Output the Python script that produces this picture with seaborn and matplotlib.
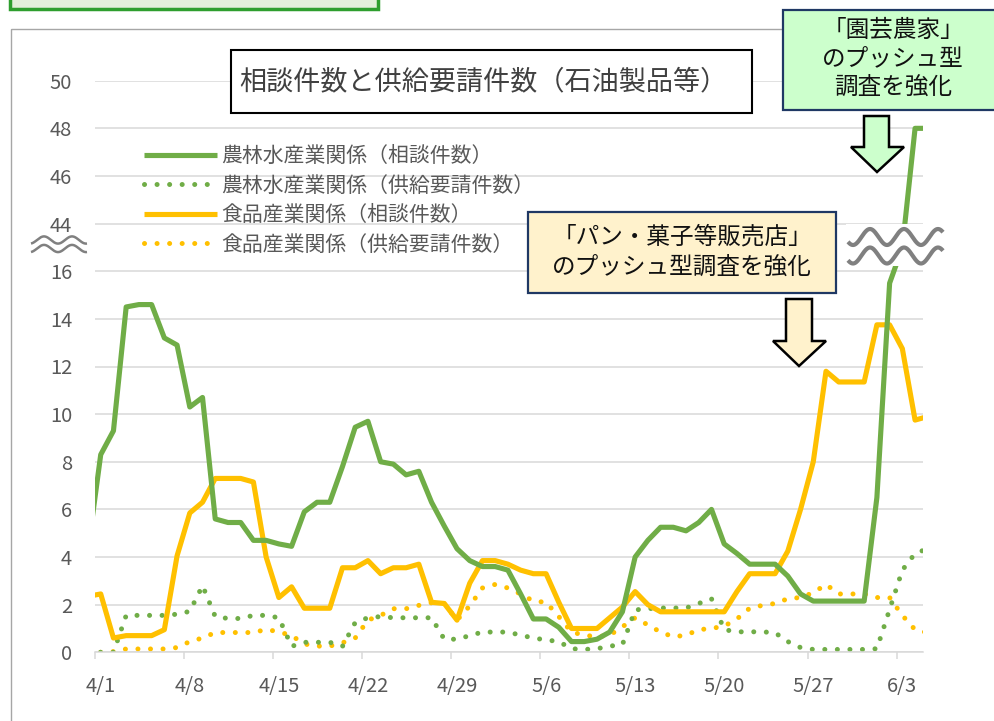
import numpy as np
import pandas as pd
import matplotlib
matplotlib.use("Agg")
import matplotlib.pyplot as plt
from matplotlib.patches import Rectangle, Polygon
import seaborn as sns

# day offset from 4/1 (3/31 .. 6/5); the 3/31 point is cut off by the left edge
days = list(range(-1, 66))

agri_consult = [4.3, 8.3, 9.3, 14.5, 14.6, 14.6, 13.2, 12.9, 10.3, 10.7,
                5.6, 5.45, 5.45, 4.7, 4.7, 4.55, 4.45, 5.9, 6.3, 6.3,
                7.8, 9.45, 9.7, 8.0, 7.9, 7.45, 7.6, 6.3, 5.3, 4.35,
                3.85, 3.6, 3.6, 3.45, 2.45, 1.4, 1.4, 1.05, 0.45, 0.45,
                0.55, 0.85, 1.7, 4.0, 4.7, 5.25, 5.25, 5.1, 5.45, 6.0,
                4.55, 4.15, 3.7, 3.7, 3.7, 3.2, 2.45, 2.15, 2.15, 2.15,
                2.15, 2.15, 6.5, 15.5, 30, 48, 48]
agri_request = [0, 0, 0, 1.55, 1.55, 1.55, 1.55, 1.6, 1.72, 2.8,
                1.5, 1.42, 1.42, 1.55, 1.55, 1.45, 0.25, 0.42, 0.42, 0.42,
                0.25, 1.25, 1.45, 1.5, 1.45, 1.45, 1.45, 1.45, 0.55, 0.55,
                0.7, 0.85, 0.85, 0.85, 0.72, 0.6, 0.52, 0.45, 0.15, 0.12,
                0.15, 0.26, 0.32, 1.78, 1.83, 1.86, 1.86, 1.86, 2.05, 2.25,
                0.95, 0.86, 0.86, 0.86, 0.82, 0.45, 0.2, 0.12, 0.12, 0.12,
                0.12, 0.12, 0.15, 1.8, 3.45, 4.15, 4.35]
food_consult = [2.35, 2.45, 0.6, 0.7, 0.7, 0.7, 0.95, 4.05, 5.85, 6.3,
                7.3, 7.3, 7.3, 7.15, 4.0, 2.3, 2.75, 1.85, 1.85, 1.85,
                3.55, 3.55, 3.85, 3.3, 3.55, 3.55, 3.7, 2.1, 2.05, 1.35,
                2.9, 3.85, 3.85, 3.7, 3.45, 3.3, 3.3, 2.1, 1.0, 1.0,
                1.0, 1.45, 1.9, 2.55, 2.0, 1.7, 1.7, 1.7, 1.7, 1.7,
                1.7, 2.55, 3.3, 3.3, 3.3, 4.25, 6.0, 8.0, 11.8, 11.35,
                11.35, 11.35, 13.75, 13.75, 12.75, 9.75, 9.9]
food_request = [0, 0, 0.03, 0.14, 0.14, 0.14, 0.14, 0.2, 0.45, 0.6,
                0.83, 0.83, 0.83, 0.83, 0.96, 0.86, 0.7, 0.35, 0.26, 0.26,
                0.4, 0.6, 1.35, 1.55, 1.83, 1.83, 1.97, 2.08, 2.05, 1.35,
                1.95, 2.7, 2.85, 2.7, 2.45, 2.15, 2.1, 1.5, 0.85, 0.72,
                0.65, 0.72, 1.07, 1.45, 1.15, 0.85, 0.65, 0.72, 0.95, 1.0,
                1.1, 1.4, 1.85, 1.97, 2.05, 2.25, 2.3, 2.5, 2.85, 2.45,
                2.45, 2.45, 2.3, 2.3, 1.55, 0.95, 0.82]

y_tick_values = [0, 2, 4, 6, 8, 10, 12, 14, 16, 44, 46, 48, 50]
x_tick_days = [0, 7, 14, 21, 28, 35, 42, 49, 56, 63]
x_tick_labels = ['4/1', '4/8', '4/15', '4/22', '4/29', '5/6', '5/13', '5/20', '5/27', '6/3']

series_labels = ['農林水産業関係（相談件数）', '農林水産業関係（供給要請件数）',
                 '食品産業関係（相談件数）', '食品産業関係（供給要請件数）']
title_text = '相談件数と供給要請件数（石油製品等）'
green_note = ['「園芸農家」', 'のプッシュ型', '調査を強化']
yellow_note = ['「パン・菓子等販売店」', 'のプッシュ型調査を強化']


def squash(v):
    """Broken y axis: 0-16 kept, 44-50 placed right above 16."""
    v = np.asarray(v, dtype=float)
    return np.where(v <= 16, v, np.where(v >= 44, v - 26, 16 + (v - 16) * 2 / 28))


sns.set_style("white")
plt.rcParams['font.family'] = ['Noto Sans CJK JP', 'DejaVu Sans']

W, H = 994, 721
fig = plt.figure(figsize=(W / 100, H / 100), dpi=100)
ax = fig.add_axes([95 / W, 1 - 652.3 / H, (922.7 - 95) / W, (652.3 - 80.7) / H])

df = pd.DataFrame({
    'day': days,
    'agri_consult': squash(agri_consult),
    'agri_request': squash(agri_request),
    'food_consult': squash(food_consult),
    'food_request': squash(food_request),
})

green, yellow = '#70AD47', '#FFC000'
solid = dict(linewidth=3.7, solid_joinstyle='round', solid_capstyle='butt')
dotted = dict(linewidth=3.6, linestyle=(0, (0.01, 2.5)), dash_capstyle='round')

sns.lineplot(data=df, x='day', y='food_request', color=yellow, label=series_labels[3], ax=ax, **dotted)
sns.lineplot(data=df, x='day', y='agri_request', color=green, label=series_labels[1], ax=ax, **dotted)
sns.lineplot(data=df, x='day', y='food_consult', color=yellow, label=series_labels[2], ax=ax, **solid)
sns.lineplot(data=df, x='day', y='agri_consult', color=green, label=series_labels[0], ax=ax, **solid)

ax.set_xlim(-0.45, 64.6)
ax.set_ylim(0, 24)
ax.set_yticks(squash(y_tick_values))
ax.set_yticklabels([str(v) for v in y_tick_values])
ax.set_xticks(x_tick_days)
ax.set_xticklabels(x_tick_labels)
ax.set_xticks([d - 0.45 for d in x_tick_days], minor=True)
ax.tick_params(axis='x', which='major', length=0, pad=17, labelsize=14.5, labelcolor='#595959')
ax.tick_params(axis='x', which='minor', length=5, width=1.1, color='#D9D9D9', direction='out', bottom=True)
ax.tick_params(axis='y', length=0, pad=16.5, labelsize=14.5, labelcolor='#595959')
ax.grid(axis='y', color='#D9D9D9', linewidth=1.1)
ax.grid(axis='x', visible=False)
for s in ['left', 'right', 'top']:
    ax.spines[s].set_visible(False)
ax.spines['bottom'].set_color('#D9D9D9')
ax.spines['bottom'].set_linewidth(1.1)
ax.set_xlabel('')
ax.set_ylabel('')

handles, labels = ax.get_legend_handles_labels()
order = [labels.index(l) for l in series_labels]
leg = ax.legend([handles[i] for i in order], series_labels, loc='upper left',
                bbox_to_anchor=(144 / W, 1 - 145 / H), bbox_transform=fig.transFigure,
                frameon=False, fontsize=15, handlelength=3.5, handletextpad=0.2,
                labelspacing=0.36, borderpad=0, borderaxespad=0)
for t in leg.get_texts():
    t.set_color('#595959')

# overlay in pixel units for boxes, arrows and break marks
ov = fig.add_axes([0, 0, 1, 1], zorder=10)
ov.set_xlim(0, W)
ov.set_ylim(H, 0)
ov.axis('off')

ov.add_patch(Rectangle((11, 29), 1100, 800, fill=False, ec='#A6A6A6', lw=1.0, zorder=1))
ov.add_patch(Rectangle((10, -20), 368, 29, fc='#E2EFDA', ec='#2E9E2E', lw=2.5, zorder=2))

# title box
ov.add_patch(Rectangle((231, 50), 521, 63, fc='white', ec='black', lw=1.5, zorder=2))
ov.text(239, 82, title_text, fontsize=19.5, color='#404040', ha='left', va='center', zorder=3)

# green note + arrow
ov.add_patch(Rectangle((783, 10), 230, 100, fc='#CCFFCC', ec='#1F3864', lw=1.6, zorder=2))
for txt, y in zip(green_note, [30, 59, 87]):
    ov.text(893, y, txt, fontsize=17, color='#111111', ha='center', va='center', zorder=3)
ov.add_patch(Polygon([(864, 116), (889, 116), (889, 147), (904, 147), (877, 172),
                      (851, 147), (864, 147)], closed=True, fc='#CCFFCC', ec='black',
                     lw=1.8, joinstyle='miter', zorder=3))

# yellow note + arrow
ov.add_patch(Rectangle((528, 212), 308, 81, fc='#FFF2CC', ec='#1F3864', lw=1.6, zorder=2))
for txt, y in zip(yellow_note, [237, 267]):
    ov.text(682, y, txt, fontsize=17, color='#111111', ha='center', va='center', zorder=3)
ov.add_patch(Polygon([(786, 299), (812, 299), (812, 341), (826, 341), (799, 366),
                      (773, 341), (786, 341)], closed=True, fc='#FFF2CC', ec='black',
                     lw=1.8, joinstyle='miter', zorder=3))


def wave(x0, x1, yc, amp, period, crest, lw):
    xs = np.linspace(x0, x1, 200)
    ys = yc - amp * np.cos(2 * np.pi * (xs - crest) / period)
    ov.plot(xs, ys, color='#808080', lw=lw, solid_capstyle='butt', zorder=5)


# axis break marks
ov.add_patch(Rectangle((846, 224), 99, 42, fc='white', ec='none', zorder=4))
for yc in (237, 255.5):
    wave(848, 943, yc, 8, 34, 870, 3.0)
for yc in (240, 248.5):
    wave(31, 87, yc, 3.6, 28, 44, 1.8)

fig.savefig('out.png', dpi=100, facecolor='white')
